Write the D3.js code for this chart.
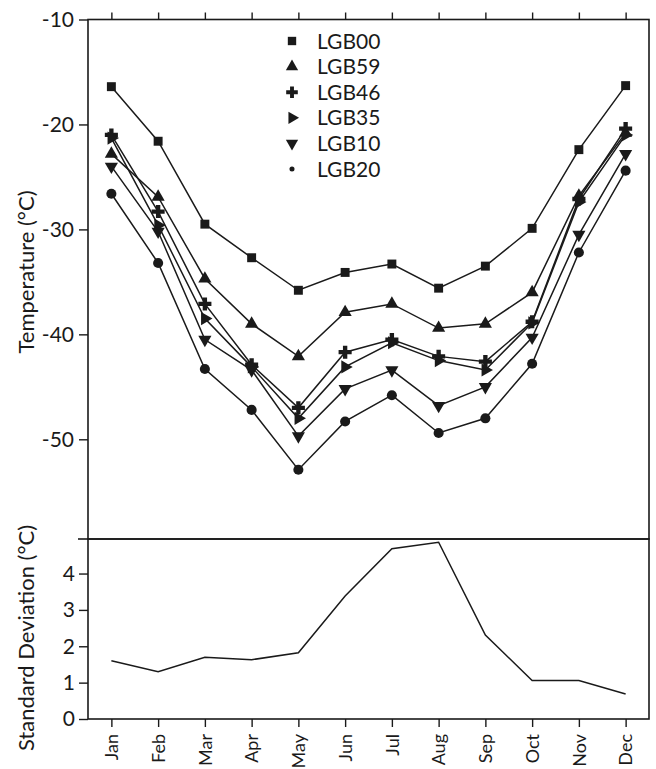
<!DOCTYPE html>
<html>
<head>
<meta charset="utf-8">
<script src="https://cdn.jsdelivr.net/npm/d3@7"></script>
<style>
  body { margin: 0; background: #fff; }
  svg text { font-family: Lato, "Open Sans", sans-serif; fill: #1a1a1a; }
</style>
</head>
<body>
<svg id="chart" width="656" height="769"></svg>
<script>
var months = ["Jan","Feb","Mar","Apr","May","Jun","Jul","Aug","Sep","Oct","Nov","Dec"];

var lgb00 = [-16.4,-21.6,-29.5,-32.7,-35.8,-34.1,-33.3,-35.6,-33.5,-29.9,-22.4,-16.3];
var lgb59 = [-22.8,-26.9,-34.7,-39.0,-42.1,-37.9,-37.1,-39.4,-39.0,-36.0,-26.8,-20.8];
var lgb46 = [-21.0,-28.3,-37.1,-42.9,-47.0,-41.7,-40.5,-42.1,-42.6,-38.8,-27.1,-20.4];
var lgb35 = [-21.3,-29.6,-38.5,-43.1,-48.0,-43.1,-40.8,-42.5,-43.4,-38.9,-27.4,-21.0];
var lgb10 = [-24.0,-30.2,-40.5,-43.4,-49.7,-45.2,-43.4,-46.8,-45.0,-40.3,-30.5,-22.8];
var lgb20 = [-26.6,-33.2,-43.3,-47.2,-52.9,-48.3,-45.8,-49.4,-48.0,-42.8,-32.2,-24.4];

var stdDev = [1.6,1.3,1.7,1.63,1.82,3.38,4.68,4.86,2.31,1.06,1.06,0.69];

var seriesNames = ["LGB00","LGB59","LGB46","LGB35","LGB10","LGB20"];
var tempTicks = [-10,-20,-30,-40,-50];
var sdTicks = [0,1,2,3,4];

var series = [
  {name: seriesNames[0], values: lgb00, sym: d3.symbolSquare, size: 80, rot: 0, legSize: 70},
  {name: seriesNames[1], values: lgb59, sym: d3.symbolTriangle, size: 75, rot: 0, legSize: 65},
  {name: seriesNames[2], values: lgb46, sym: d3.symbolCross, size: 95, rot: 0, legSize: 75},
  {name: seriesNames[3], values: lgb35, sym: d3.symbolTriangle, size: 75, rot: 90, legSize: 65},
  {name: seriesNames[4], values: lgb10, sym: d3.symbolTriangle, size: 75, rot: 180, legSize: 65},
  {name: seriesNames[5], values: lgb20, sym: d3.symbolCircle, size: 80, rot: 0, legSize: 20}
];

var leftX = 88, rightX = 649, topY = 19.5, midY = 539, bottomY = 719;
var ink = "#1a1a1a";

var svg = d3.select("#chart");

var x = d3.scalePoint()
          .domain(months)
          .range([leftX, rightX])
          .padding(0.5);

var yTemp = d3.scaleLinear()
              .domain([-59.5, -10])
              .range([midY, topY]);

var ySd = d3.scaleLinear()
            .domain([0, 4.95])
            .range([bottomY, midY]);

// frames
svg.append("rect")
   .attr("x", leftX).attr("y", topY)
   .attr("width", rightX - leftX).attr("height", midY - topY)
   .attr("fill", "none").attr("stroke", ink).attr("stroke-width", 1.6);
svg.append("rect")
   .attr("x", leftX).attr("y", midY)
   .attr("width", rightX - leftX).attr("height", bottomY - midY)
   .attr("fill", "none").attr("stroke", ink).attr("stroke-width", 1.6);
svg.append("line")
   .attr("x1", leftX - 10).attr("x2", leftX)
   .attr("y1", midY).attr("y2", midY)
   .attr("stroke", ink).attr("stroke-width", 1.6);

function styleAxis(g){
  g.select(".domain").remove();
  g.selectAll(".tick line").attr("stroke", ink).attr("stroke-width", 1.4);
  g.selectAll(".tick text").attr("font-size", "21px").attr("fill", ink);
}

// plain hyphen for negatives, like the original
svg.append("g")
   .attr("transform", "translate(" + leftX + ",0)")
   .call(d3.axisLeft(yTemp).tickValues(tempTicks).tickFormat(d => String(d)).tickSize(9).tickPadding(5))
   .call(styleAxis);

svg.append("g")
   .attr("transform", "translate(0," + topY + ")")
   .call(d3.axisTop(x).tickSize(7).tickFormat(""))
   .call(styleAxis);

svg.append("g")
   .attr("transform", "translate(" + leftX + ",0)")
   .call(d3.axisLeft(ySd).tickValues(sdTicks).tickFormat(d3.format("d")).tickSize(9).tickPadding(4))
   .call(styleAxis);

var xAxis = svg.append("g")
   .attr("transform", "translate(0," + bottomY + ")")
   .call(d3.axisBottom(x).tickSize(8).tickPadding(4))
   .call(styleAxis);

xAxis.selectAll(".tick text")
     .attr("transform", "rotate(-90)")
     .attr("x", -15)
     .attr("y", 0)
     .attr("dy", "0.35em")
     .attr("font-size", "18px")
     .style("text-anchor", "end");

// axis titles
svg.append("text")
   .attr("transform", "translate(34,272) rotate(-90)")
   .attr("font-size", "22px")
   .style("text-anchor", "middle")
   .text("Temperature (°C)");

svg.append("text")
   .attr("transform", "translate(34,638) rotate(-90)")
   .attr("font-size", "22px")
   .style("text-anchor", "middle")
   .text("Standard Deviation (°C)");

// temperature lines
var line = d3.line()
             .x((d, i) => x(months[i]))
             .y(d => yTemp(d));

var groups = svg.selectAll(".series")
                .data(series)
                .enter()
                .append("g")
                .classed("series", true);

groups.append("path")
      .attr("d", d => line(d.values))
      .attr("fill", "none")
      .attr("stroke", ink)
      .attr("stroke-width", 1.5);

groups.each(function(s){
  d3.select(this).selectAll(".mark")
    .data(s.values)
    .enter()
    .append("path")
    .classed("mark", true)
    .attr("d", d3.symbol().type(s.sym).size(s.size))
    .attr("transform", (d, i) => "translate(" + x(months[i]) + "," + yTemp(d) + ") rotate(" + s.rot + ")")
    .attr("fill", ink);
});

// legend
var legend = svg.append("g")
                .attr("transform", "translate(292,41)");

var rows = legend.selectAll(".row")
                 .data(series)
                 .enter()
                 .append("g")
                 .attr("transform", (d, i) => "translate(0," + i * 25.6 + ")");

rows.append("path")
    .attr("d", d => d3.symbol().type(d.sym).size(d.legSize)())
    .attr("transform", d => "rotate(" + d.rot + ")")
    .attr("fill", ink);

rows.append("text")
    .attr("x", 25)
    .attr("dy", "0.36em")
    .attr("font-size", "21px")
    .text(d => d.name);

// standard deviation
var sdLine = d3.line()
               .x((d, i) => x(months[i]))
               .y(d => ySd(d));

svg.append("path")
   .attr("d", sdLine(stdDev))
   .attr("fill", "none")
   .attr("stroke", ink)
   .attr("stroke-width", 1.5);
</script>
</body>
</html>
